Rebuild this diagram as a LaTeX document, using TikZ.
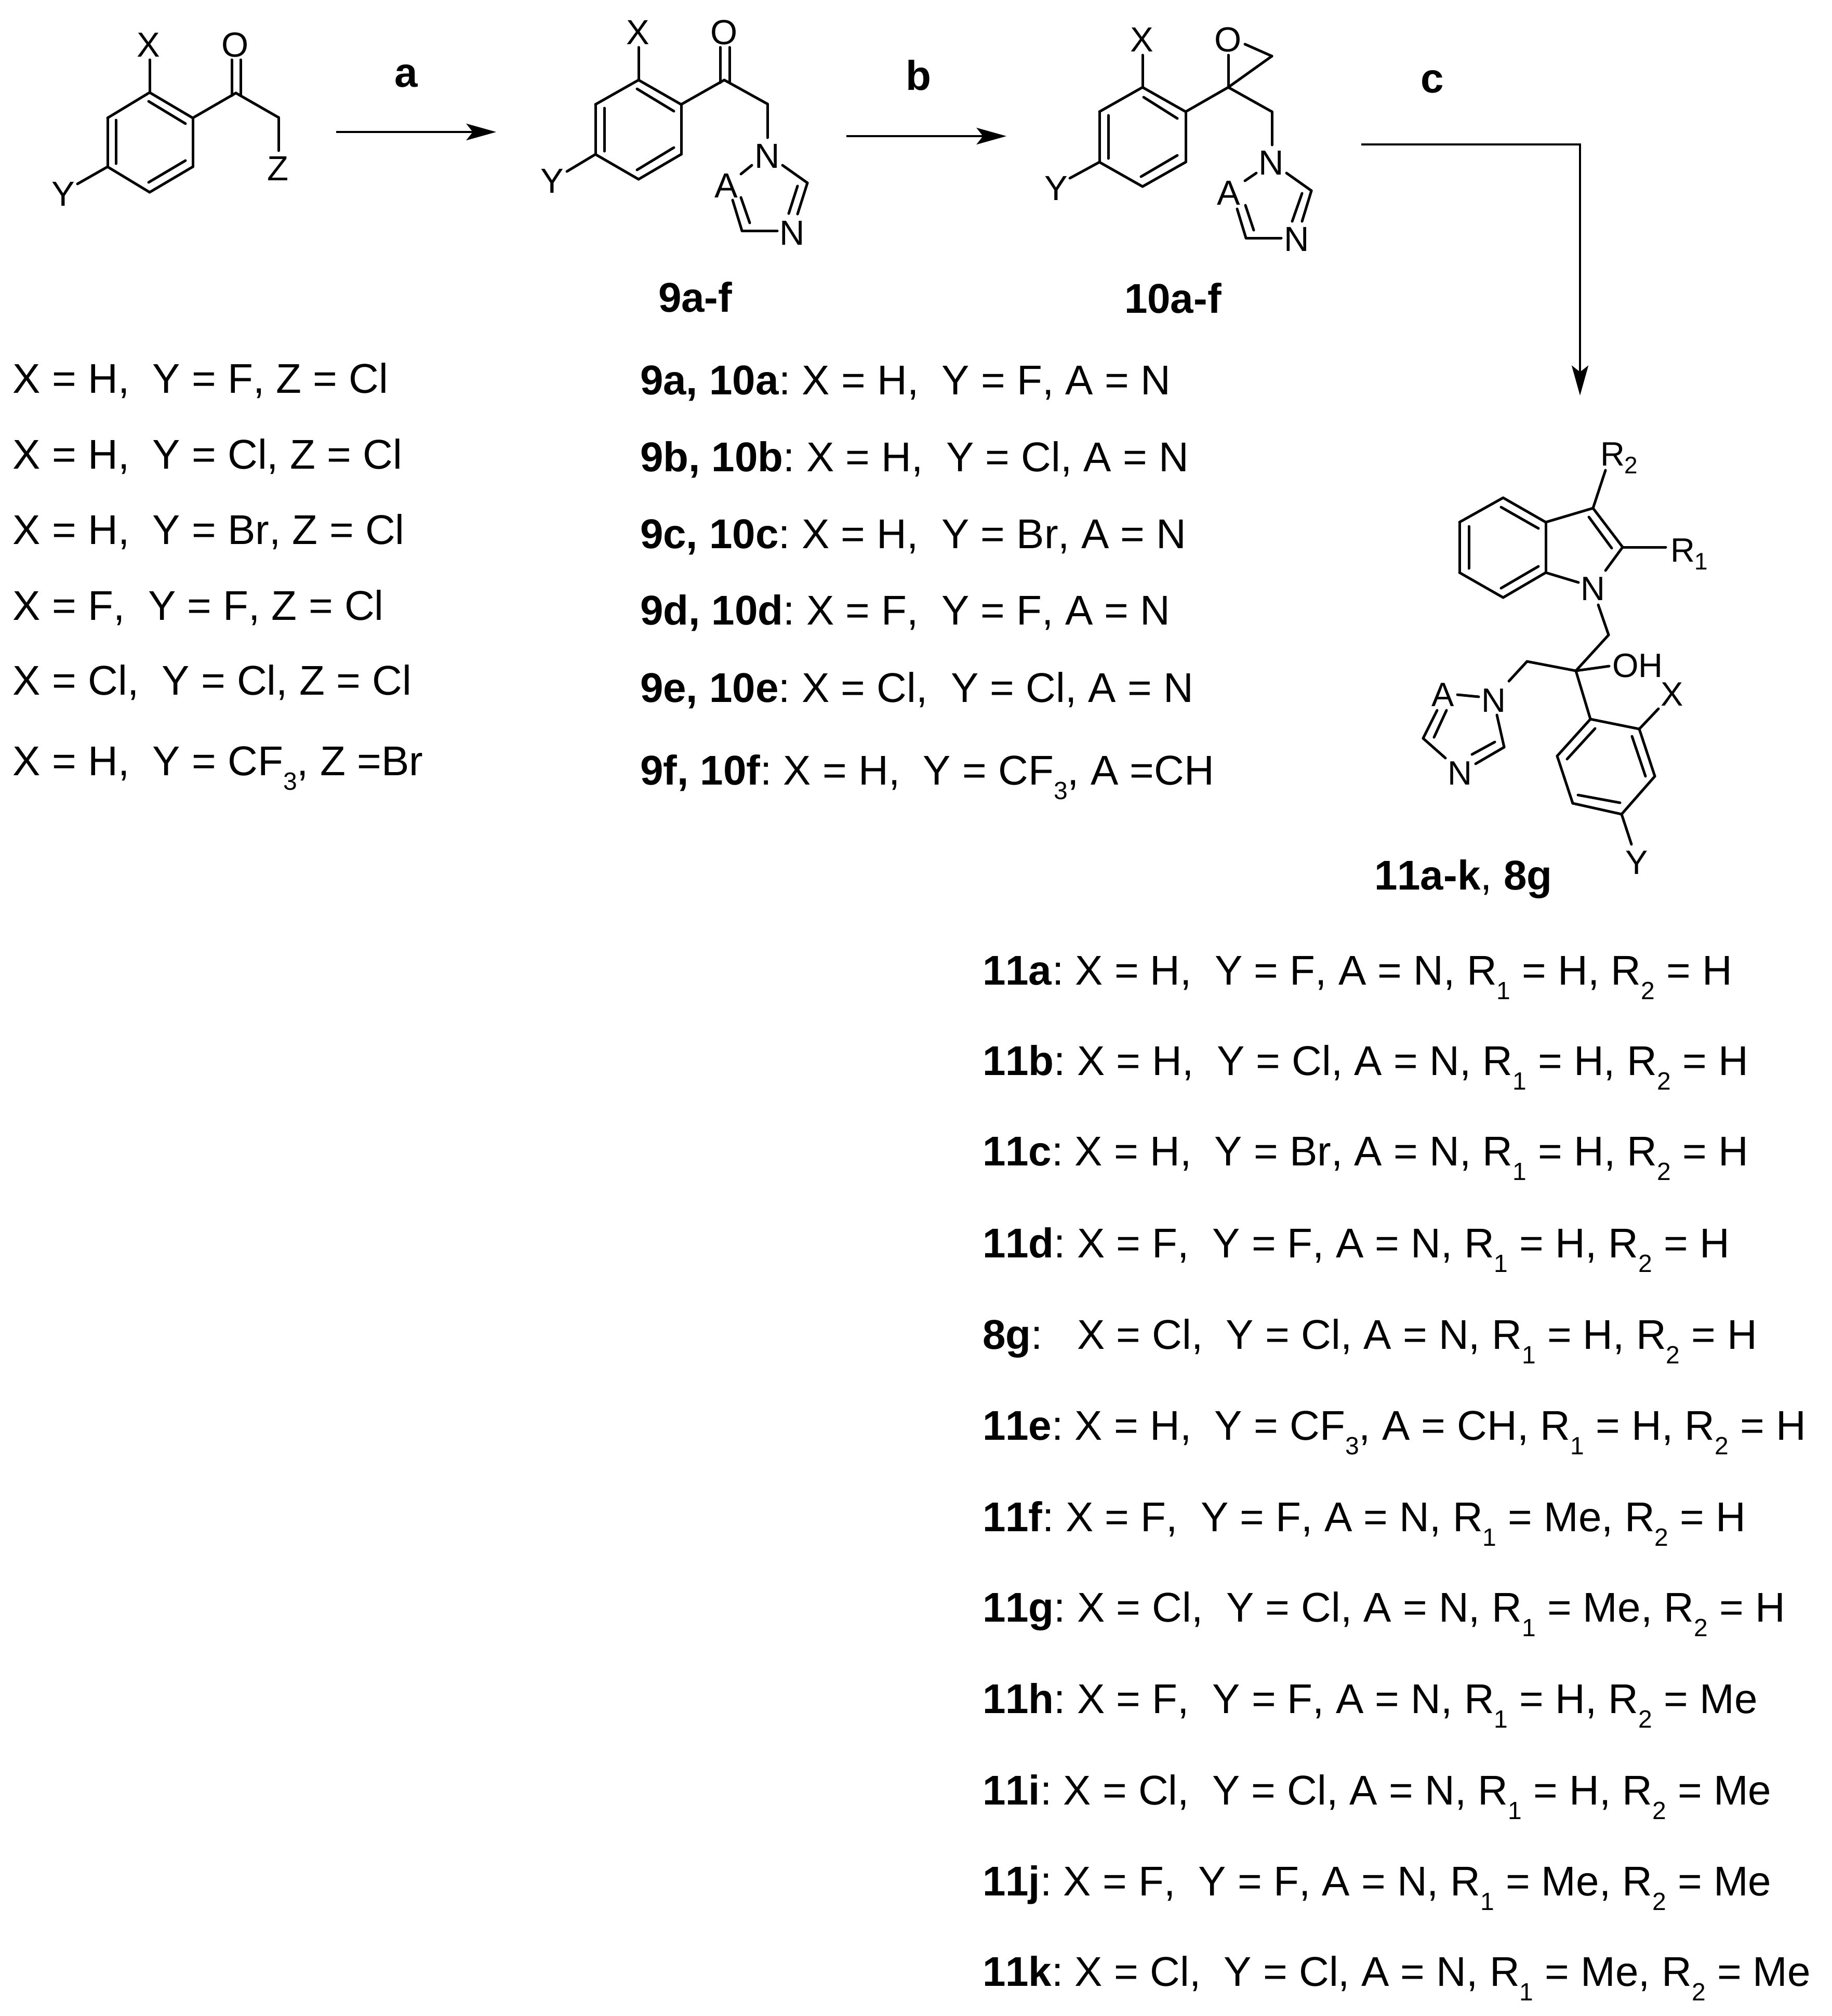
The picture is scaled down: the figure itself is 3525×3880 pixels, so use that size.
\documentclass[tikz,border=0pt]{standalone}
\usepackage{fontspec}
\setmainfont[Kerning=Off]{Liberation Sans}
\usetikzlibrary{arrows.meta}
\newcommand{\rowsub}[1]{\raisebox{-5.6pt}{\fontsize{9.6}{10}\selectfont #1}}
\newcommand{\atomsub}[1]{\raisebox{-3pt}{\fontsize{9.2}{10}\selectfont #1}}
\tikzset{
  bond/.style = {line width=1pt, line cap=round},
  rarrow/.style = {line width=.75pt, -{Stealth[length=11.5pt, width=6.4pt, inset=2.5pt]}},
  atom/.style = {anchor=base, inner sep=0pt, font=\fontsize{13.4}{15}\selectfont},
  atomsm/.style = {anchor=base, inner sep=0pt, font=\fontsize{13}{15}\selectfont},
  atomlft/.style = {atomsm, anchor=base west},
  rowtext/.style = {anchor=base west, inner sep=0pt, font=\fontsize{16}{18}\selectfont\frenchspacing},
  steplabel/.style = {anchor=base, inner sep=0pt, font=\fontsize{16}{18}\selectfont\bfseries},
}

\begin{document}
\begin{tikzpicture}[x=.2pt, y=-.2pt]
\useasboundingbox (0,0) rectangle (3525,3880);

% starting ketone
\foreach \atomname/\x/\y in {ka/288/178, kb/371/227, kc/371/321, kd/288/370, ke/207/321, kf/207/227,
    kg/454/179, kh/536/226, kz/536/290, kx/288/115, ky/149/354,
    koa/446/115, kob/446/184, koc/463/115, kod/463/184,
    kia/286/195, kib/357/238, kic/223/231, kid/223/315, kie/286/351, kif/357/309}
  \coordinate (\atomname) at (\x,\y);
\foreach \p/\q in {ka/kb, kb/kc, kc/kd, kd/ke, ke/kf, kf/ka, kb/kg, kg/kh, kh/kz, ka/kx, ke/ky,
    koa/kob, koc/kod, kia/kib, kic/kid, kie/kif}
  \draw[bond] (\p) -- (\q);
\node[atom] (kX) at (286,109) {X};
\node[atom] (kO) at (453,109) {O};
\node[atom] (kZ) at (535,347) {Z};
\node[atom] (kY) at (122,396) {Y};

% triazolyl ketone
\foreach \atomname/\x/\y in {ta/1229/154, tb/1311/201, tc/1311/297, td/1229/345, te/1146/297, tf/1146/201,
    tg/1394/154, th/1477/200, tn/1477/265, tx/1229/91, ty/1091/330,
    toa/1386/91, tob/1386/159, toc/1404/91, tod/1404/159,
    tia/1226/171, tib/1297/214, tic/1163/208, tid/1163/291, tie/1226/327, tif/1297/284,
    tra/1447/318, trb/1426/335, trc/1506/318, trd/1554/352, tre/1535/412, trf/1535/358, trg/1518/411,
    trh/1496/444, tri/1428/444, trj/1410/385, trk/1426/380, trl/1443/429}
  \coordinate (\atomname) at (\x,\y);
\foreach \p/\q in {ta/tb, tb/tc, tc/td, td/te, te/tf, tf/ta, tb/tg, tg/th, th/tn, ta/tx, te/ty,
    toa/tob, toc/tod, tia/tib, tic/tid, tie/tif,
    tra/trb, trc/trd, trd/tre, trf/trg, trh/tri, tri/trj, trk/trl}
  \draw[bond] (\p) -- (\q);
\node[atom] (tX) at (1228,85) {X};
\node[atom] (tO) at (1394,85) {O};
\node[atom] (tY) at (1063,371) {Y};
\node[atom] (tN) at (1477,323) {N};
\node[atom] (tA) at (1398,380) {A};
\node[atom] (tM) at (1525,471) {N};

% oxirane
\foreach \atomname/\x/\y in {ea/2199/168, eb/2282/215, ec/2282/312, ed/2199/359, ee/2116/312, ef/2116/215,
    eg/2364/168, eh/2448/215, en/2448/279, ex/2199/106, ey/2059/343,
    eoa/2364/106, eob/2396/85, eoc/2448/108,
    eia/2201/187, eib/2266/228, eic/2133/222, eid/2133/305, eie/2196/340, eif/2266/299,
    era/2418/333, erb/2396/348, erc/2476/333, erd/2524/367, ere/2506/426, erf/2506/372, erg/2487/426,
    erh/2466/458, eri/2398/458, erj/2381/402, erk/2397/395, erl/2413/443}
  \coordinate (\atomname) at (\x,\y);
\foreach \p/\q in {ea/eb, eb/ec, ec/ed, ed/ee, ee/ef, ef/ea, eb/eg, eg/eh, eh/en, ea/ex, ee/ey,
    eg/eoa, eob/eoc, eoc/eg, eia/eib, eic/eid, eie/eif,
    era/erb, erc/erd, erd/ere, erf/erg, erh/eri, eri/erj, erk/erl}
  \draw[bond] (\p) -- (\q);
\node[atom] (eX) at (2198,99) {X};
\node[atom] (eO) at (2364,99) {O};
\node[atom] (eY) at (2033,385) {Y};
\node[atom] (eN) at (2447,336) {N};
\node[atom] (eA) at (2365,394) {A};
\node[atom] (eM) at (2496,483) {N};

% indole product
\foreach \atomname/\x/\y in {ia/2893/958, ib/2975/1005, ic/2975/1102, id/2893/1150, ie/2809/1102, if/2809/1005,
    ig/3066/978, ih/3123/1053, ij/3038/1121, ik/3090/1098, ir/3090/905, is/3206/1053,
    iia/2889/976, iib/2961/1017, iic/2827/1013, iid/2827/1094, iie/2889/1132, iif/2961/1090,
    iig/3058/995, iih/3102/1055,
    la/3076/1164, lb/3096/1222, lc/3033/1291, ld/2939/1273, le/2904/1311, lf/3097/1282,
    pa/3061/1384, pb/3155/1403, pc/3185/1494, pd/3121/1567, pe/3027/1546, pf/2997/1455,
    px/3192/1364, py/3140/1625,
    pia/3070/1402, pib/3016/1461, pic/3141/1417, pid/3167/1494, pie/3037/1530, pif/3118/1545,
    ra/2846/1341, rb/2805/1337, rc/2881/1376, rd/2895/1438, re/2840/1470, rf/2877/1428, rg/2833/1452,
    rh/2782/1459, ri/2739/1421, rj/2766/1367, rk/2760/1419, rl/2784/1367}
  \coordinate (\atomname) at (\x,\y);
\foreach \p/\q in {ia/ib, ib/ic, ic/id, id/ie, ie/if, if/ia, ib/ig, ig/ih, ic/ij, ih/ik, ig/ir, ih/is,
    iia/iib, iic/iid, iie/iif, iig/iih,
    la/lb, lb/lc, lc/ld, ld/le, lc/lf, lc/pa,
    pa/pb, pb/pc, pc/pd, pd/pe, pe/pf, pf/pa, pb/px, pd/py, pia/pib, pic/pid, pie/pif,
    ra/rb, rc/rd, rd/re, rf/rg, rh/ri, ri/rj, rk/rl}
  \draw[bond] (\p) -- (\q);
\node[atomlft] (iR2) at (3079,896) {R\atomsub{2}};
\node[atomlft] (iR1) at (3214,1081) {R\atomsub{1}};
\node[atomsm] (iN) at (3066,1155) {N};
\node[atomlft] (iOH) at (3102,1303) {OH};
\node[atomsm] (iX) at (3218,1358) {X};
\node[atomsm] (iY) at (3150,1682) {Y};
\node[atomsm] (iA) at (2777,1359) {A};
\node[atomsm] (iM) at (2875,1370) {N};
\node[atomsm] (iL) at (2810,1510) {N};

% reaction arrows
\coordinate (aleft) at (647,254);
\coordinate (aright) at (955,254);
\coordinate (bleft) at (1629,262);
\coordinate (bright) at (1937,262);
\coordinate (cleft) at (2620,278);
\coordinate (ccorner) at (3041,278);
\coordinate (cdown) at (3041,761);
\draw[rarrow] (aleft) -- (aright);
\draw[rarrow] (bleft) -- (bright);
\draw[rarrow] (cleft) -- (ccorner) -- (cdown);
\node[steplabel] (stepa) at (782,167) {a};
\node[steplabel] (stepb) at (1768,173) {b};
\node[steplabel] (stepc) at (2757,178) {c};

% compound labels
\node[rowtext] (name9) at (1266,600) {\bfseries 9a-f};
\node[rowtext] (name10) at (2163,602) {\bfseries 10a-f};
\node[rowtext] (name11) at (2644,1712) {\textbf{11a-k}, \textbf{8g}};

% substituents, left column
\node[rowtext] (sa) at (24,756) {X = H,~~Y = F, Z = Cl};
\node[rowtext] (sb) at (24,902) {X = H,~~Y = Cl, Z = Cl};
\node[rowtext] (sc) at (24,1047) {X = H,~~Y = Br, Z = Cl};
\node[rowtext] (sd) at (24,1193) {X = F,~~Y = F, Z = Cl};
\node[rowtext] (se) at (24,1337) {X = Cl,~~Y = Cl, Z = Cl};
\node[rowtext] (sf) at (24,1492) {X = H,~~Y = CF\rowsub{3}, Z =Br};

% substituents, middle column
\node[rowtext] (ma) at (1231,759) {\textbf{9a, 10a}: X = H,~~Y = F, A = N};
\node[rowtext] (mb) at (1231,907) {\textbf{9b, 10b}: X = H,~~Y = Cl, A = N};
\node[rowtext] (mc) at (1231,1055) {\textbf{9c, 10c}: X = H,~~Y = Br, A = N};
\node[rowtext] (md) at (1231,1202) {\textbf{9d, 10d}: X = F,~~Y = F, A = N};
\node[rowtext] (me) at (1231,1351) {\textbf{9e, 10e}: X = Cl,~~Y = Cl, A = N};
\node[rowtext] (mf) at (1231,1510) {\textbf{9f, 10f}: X = H,~~Y = CF\rowsub{3}, A =CH};

% substituents, right column
\node[rowtext] (pra) at (1890,1895) {\textbf{11a}: X = H,~~Y = F, A = N, R\rowsub{1} = H, R\rowsub{2} = H};
\node[rowtext] (prb) at (1890,2069) {\textbf{11b}: X = H,~~Y = Cl, A = N, R\rowsub{1} = H, R\rowsub{2} = H};
\node[rowtext] (prc) at (1890,2243) {\textbf{11c}: X = H,~~Y = Br, A = N, R\rowsub{1} = H, R\rowsub{2} = H};
\node[rowtext] (prd) at (1890,2420) {\textbf{11d}: X = F,~~Y = F, A = N, R\rowsub{1} = H, R\rowsub{2} = H};
\node[rowtext] (prg) at (1890,2596) {\textbf{8g}:~~~X = Cl,~~Y = Cl, A = N, R\rowsub{1} = H, R\rowsub{2} = H};
\node[rowtext] (pre) at (1890,2771) {\textbf{11e}: X = H,~~Y = CF\rowsub{3}, A = CH, R\rowsub{1} = H, R\rowsub{2} = H};
\node[rowtext] (prf) at (1890,2947) {\textbf{11f}: X = F,~~Y = F, A = N, R\rowsub{1} = Me, R\rowsub{2} = H};
\node[rowtext] (prh) at (1890,3121) {\textbf{11g}: X = Cl,~~Y = Cl, A = N, R\rowsub{1} = Me, R\rowsub{2} = H};
\node[rowtext] (pri) at (1890,3297) {\textbf{11h}: X = F,~~Y = F, A = N, R\rowsub{1} = H, R\rowsub{2} = Me};
\node[rowtext] (prj) at (1890,3473) {\textbf{11i}: X = Cl,~~Y = Cl, A = N, R\rowsub{1} = H, R\rowsub{2} = Me};
\node[rowtext] (prk) at (1890,3648) {\textbf{11j}: X = F,~~Y = F, A = N, R\rowsub{1} = Me, R\rowsub{2} = Me};
\node[rowtext] (prl) at (1890,3822) {\textbf{11k}: X = Cl,~~Y = Cl, A = N, R\rowsub{1} = Me, R\rowsub{2} = Me};
\end{tikzpicture}
\end{document}
